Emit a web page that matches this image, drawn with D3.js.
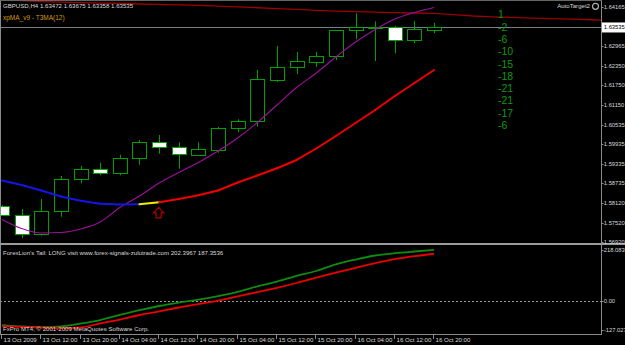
<!DOCTYPE html>
<html><head><meta charset="utf-8">
<script src="https://cdn.jsdelivr.net/npm/d3@7"></script>
<style>html,body{margin:0;padding:0;background:#000;overflow:hidden}</style>
</head><body><svg id="c" width="625" height="345"></svg>
<script>
// ---------------- data ----------------
const symbol = "GBPUSD,H4";
const timeLabels = ["13 Oct 2009","13 Oct 12:00","13 Oct 20:00","14 Oct 04:00","14 Oct 12:00","14 Oct 20:00",
  "15 Oct 04:00","15 Oct 12:00","15 Oct 20:00","16 Oct 04:00","16 Oct 12:00","16 Oct 20:00"];
const timeLabelBars = [0,2,4,6,8,10,12,14,16,18,20,22];

const open  = [1.58039,1.57753,1.57167,1.57885,1.58853,1.59171,1.59038,1.59519,1.59994,1.59859,1.59593,1.59766,1.60426,1.60642,1.61925,1.62307,1.62471,1.62646,1.63448,1.63525,1.63541,1.63140,1.63472];
const high  = [1.58060,1.57938,1.58246,1.58955,1.59264,1.59365,1.59612,1.60065,1.60219,1.59994,1.59994,1.60466,1.60704,1.62224,1.62964,1.62779,1.62779,1.63457,1.63972,1.63726,1.63580,1.63735,1.63675];
const low   = [1.57730,1.57043,1.57114,1.57700,1.58730,1.58977,1.58977,1.59304,1.59643,1.59180,1.59572,1.59674,1.60303,1.60476,1.61854,1.62100,1.62326,1.62532,1.63170,1.62501,1.62739,1.63050,1.63358];
const close = [1.57753,1.57167,1.57867,1.58853,1.59171,1.59038,1.59519,1.60004,1.59859,1.59634,1.59779,1.60426,1.60642,1.61946,1.62316,1.62492,1.62655,1.63457,1.63541,1.63540,1.63140,1.63479,1.63535];

// xpMA (thick, colour by trend)
const xpma = [1.58816,1.58678,1.58508,1.58323,1.58190,1.58101,1.58076,1.58083,1.58144,1.58246,1.58360,1.58508,1.58755,1.58971,1.59193,1.59449,1.59803,1.60189,1.60590,1.60990,1.61422,1.61823,1.62224];
const xpmaTrend = ["down","down","down","down","down","down","down","down","flat","up","up","up","up","up","up","up","up","up","up","up","up","up","up"];
const arrowBar = 8;
// T3MA (purple)
const t3ma = [1.57614,1.57336,1.57198,1.57213,1.57321,1.57537,1.57984,1.58338,1.58739,1.59063,1.59371,1.59726,1.60127,1.60605,1.61145,1.61684,1.62131,1.62625,1.63087,1.63473,1.63796,1.63997,1.64151];
// long shifted MA (dark red), bars 0..31
const longMA = [1.64394,1.64361,1.64333,1.64318,1.64303,1.64288,1.64274,1.64259,1.64244,1.64230,1.64215,1.64196,1.64170,1.64143,1.64117,1.64091,1.64065,1.64039,1.64022,1.64006,1.63993,1.63981,1.63969,1.63934,1.63889,1.63861,1.63844,1.63826,1.63808,1.63791,1.63773,1.63756];

const priceTicks = [1.64165,1.62965,1.62350,1.61750,1.61150,1.60535,1.59935,1.59335,1.58735,1.58120,1.57520,1.56920];
const currentPrice = 1.63535;
const autoTargets = [1,-2,-6,-10,-15,-18,-21,-21,-17,-6];

// sub-window: ForexLion's Tail
const tailGreen = [-95.7,-101.3,-104.0,-100.5,-89.4,-75.5,-55.6,-36.6,-19.9,-6.1,5.8,19.7,36.4,58.2,77.2,99.9,118.9,145.5,164.5,180.4,189.5,196.3,202.3967];
const tailRed   = [-99.7,-102.9,-105.6,-107.6,-105.2,-88.6,-73.5,-55.6,-41.4,-25.9,-12.8,1.5,18.5,34.8,52.3,71.3,92.3,112.6,131.6,149.9,165.7,177.6,187.3536];
const subMax = 218.0836, subMin = -127.027;
const subTicks = [218.0836, 0, -127.027];
const subTickLabels = ["218.0836","0.00","-127.027"];

// ---------------- drawing ----------------
const svg = d3.select("#c");
const FONT = "'Liberation Sans', Arial, sans-serif";
const TXT = "#d8d8d8";
const GRID = "#8a8a8a";
const axisX = 601.5;
const FS = 6.1;
const AFS = 5.8;

svg.append("rect").attr("width",625).attr("height",345).attr("fill","#000");

const x = d3.scaleLinear().domain([0,22]).range([2,434.1]);
const y = d3.scaleLinear().domain([1.5692,1.64382]).range([242,0]);
const ys = d3.scaleLinear().domain([subMin,subMax]).range([333,246]);

svg.append("clipPath").attr("id","mainClip").append("rect").attr("x",1).attr("y",0).attr("width",axisX-1).attr("height",243);
svg.append("clipPath").attr("id","subClip").append("rect").attr("x",1).attr("y",246).attr("width",axisX-1).attr("height",88);

const main = svg.append("g").attr("clip-path","url(#mainClip)");
const sub = svg.append("g").attr("clip-path","url(#subClip)");

// current price line
main.append("line").attr("x1",0).attr("x2",axisX).attr("y1",Math.round(y(currentPrice))+0.5).attr("y2",Math.round(y(currentPrice))+0.5)
  .attr("stroke","#6f8282").attr("stroke-width",1);

// long MA
main.append("path").datum(longMA).attr("fill","none").attr("stroke","#9a0000").attr("stroke-width",1.3)
  .attr("d", d3.line().x((d,i)=>x(i)).y(d=>y(d)));

// candles
const GREEN = "#00a000";
const cg = main.append("g");
open.forEach((o,i)=>{
  const cx = Math.round(x(i))+0.5;
  const c = close[i];
  cg.append("line").attr("x1",cx).attr("x2",cx).attr("y1",y(high[i])).attr("y2",y(low[i])).attr("stroke",GREEN).attr("stroke-width",1);
  const top = Math.round(y(Math.max(o,c)))+0.5;
  const bot = Math.round(y(Math.min(o,c)))+0.5;
  const bull = c >= o;
  const h = Math.max(0, bot-top);
  if (h < 1) {
    cg.append("line").attr("x1",cx-7).attr("x2",cx+7).attr("y1",top).attr("y2",top).attr("stroke","#2fd02f").attr("stroke-width",1.2);
  } else {
    cg.append("rect").attr("x",cx-7).attr("y",top).attr("width",14).attr("height",h)
      .attr("fill", bull ? "#000" : "#ffffff").attr("stroke",GREEN).attr("stroke-width",1);
  }
});

// T3MA purple
main.append("path").datum(t3ma).attr("fill","none").attr("stroke","#9c109c").attr("stroke-width",1.1)
  .attr("d", d3.line().x((d,i)=>x(i)).y(d=>y(d)).curve(d3.curveMonotoneX));

// xpMA coloured segments
const trendColor = {down:"#1414e6", flat:"#f0f000", up:"#f00000"};
for (let i=1;i<xpma.length;i++){
  main.append("line").attr("x1",x(i-1)).attr("y1",y(xpma[i-1])).attr("x2",x(i)).attr("y2",y(xpma[i]))
    .attr("stroke",trendColor[xpmaTrend[i]]).attr("stroke-width",2).attr("stroke-linecap","round");
}
// arrow under xpMA at turning bar
{
  const ax = x(arrowBar) - 0.5, ay = y(xpma[arrowBar]) + 5;
  const p = `M${ax},${ay} L${ax+5},${ay+5.5} L${ax+2.5},${ay+5.5} L${ax+2.5},${ay+10.5} L${ax-2.5},${ay+10.5} L${ax-2.5},${ay+5.5} L${ax-5},${ay+5.5} Z`;
  main.append("path").attr("d",p).attr("fill","none").attr("stroke","#b00000").attr("stroke-width",1.2);
}

// auto target numbers
svg.append("g").selectAll("text").data(autoTargets).join("text")
  .attr("x",498).attr("y",(d,i)=>14.7+i*12.26).attr("dy","0.36em")
  .attr("font-family",FONT).attr("font-size",10.5).attr("fill","#0d9a0d").text(d=>d);

// header texts
svg.append("text").attr("x",3).attr("y",5.5).attr("dy","0.35em").attr("font-family",FONT).attr("font-size",FS).attr("fill",TXT)
  .text(`${symbol}  ${open[22].toFixed(5)} ${high[22].toFixed(5)} ${low[22].toFixed(5)} ${close[22].toFixed(5)}`);
svg.append("text").attr("x",3).attr("y",17.3).attr("dy","0.35em").attr("font-family",FONT).attr("font-size",6.5).attr("fill","#d49a12")
  .text("xpMA_v9 - T3MA(12)");
svg.append("text").attr("x",590).attr("y",6.3).attr("dy","0.35em").attr("text-anchor","end").attr("font-family",FONT).attr("font-size",FS).attr("fill",TXT)
  .text("AutoTarget2");
svg.append("circle").attr("cx",595.5).attr("cy",6.3).attr("r",3).attr("fill","none").attr("stroke","#b0b0b0").attr("stroke-width",1.2);

// sub-window
sub.append("line").attr("x1",0).attr("x2",axisX).attr("y1",Math.round(ys(0))+0.5).attr("y2",Math.round(ys(0))+0.5)
  .attr("stroke","#9a9a9a").attr("stroke-width",1).attr("stroke-dasharray","2,2");
sub.append("path").datum(tailGreen).attr("fill","none").attr("stroke","#118a11").attr("stroke-width",1.8)
  .attr("d", d3.line().x((d,i)=>x(i)).y(d=>ys(d)).curve(d3.curveMonotoneX));
sub.append("path").datum(tailRed).attr("fill","none").attr("stroke","#ee0000").attr("stroke-width",1.8)
  .attr("d", d3.line().x((d,i)=>x(i)).y(d=>ys(d)).curve(d3.curveMonotoneX));
svg.append("text").attr("x",3).attr("y",252.5).attr("dy","0.35em").attr("font-family",FONT).attr("font-size",FS).attr("fill",TXT)
  .text(`ForexLion's Tail: LONG visit www.forex-signals-zulutrade.com  ${tailGreen[22].toFixed(4)} ${tailRed[22].toFixed(4)}`);
svg.append("text").attr("x",3).attr("y",329).attr("dy","0.35em").attr("font-family",FONT).attr("font-size",FS).attr("fill",TXT)
  .text("FxPro MT4, © 2001-2009 MetaQuotes Software Corp.");

// frames
const fr = svg.append("g").attr("stroke",GRID).attr("fill","none");
fr.append("line").attr("x1",0.5).attr("x2",0.5).attr("y1",0).attr("y2",335);
fr.append("line").attr("x1",axisX).attr("x2",axisX).attr("y1",0).attr("y2",335);
fr.append("line").attr("x1",0).attr("x2",axisX).attr("y1",0.5).attr("y2",0.5).attr("stroke","#666");
fr.append("line").attr("x1",0).attr("x2",625).attr("y1",244).attr("y2",244).attr("stroke","#9a9a9a").attr("stroke-width",2.2);
fr.append("line").attr("x1",0).attr("x2",axisX).attr("y1",334.5).attr("y2",334.5);

// price axis
const pa = svg.append("g");
priceTicks.forEach(p=>{
  const yy = Math.min(241.5, y(p));
  pa.append("line").attr("x1",axisX).attr("x2",axisX+2).attr("y1",Math.round(yy)+0.5).attr("y2",Math.round(yy)+0.5).attr("stroke",GRID);
  pa.append("text").attr("x",603.8).attr("y",yy).attr("dy","0.35em").attr("font-family",FONT).attr("font-size",AFS).attr("fill",TXT).text(p.toFixed(5));
});
{
  const yy = y(currentPrice);
  pa.append("rect").attr("x",602).attr("y",yy-5).attr("width",24).attr("height",10).attr("fill","#fff");
  pa.append("text").attr("x",603.8).attr("y",yy).attr("dy","0.35em").attr("font-family",FONT).attr("font-size",AFS).attr("fill","#000").text(currentPrice.toFixed(5));
}
// sub axis
subTicks.forEach((v,i)=>{
  const yy = Math.max(250, Math.min(330, ys(v)));
  pa.append("line").attr("x1",axisX).attr("x2",axisX+2).attr("y1",Math.round(yy)+0.5).attr("y2",Math.round(yy)+0.5).attr("stroke",GRID);
  pa.append("text").attr("x",603.8).attr("y",yy).attr("dy","0.35em").attr("font-family",FONT).attr("font-size",AFS).attr("fill",TXT).text(subTickLabels[i]);
});

// time axis
const ta = svg.append("g");
timeLabelBars.forEach((b,i)=>{
  const xx = Math.round(x(b)) - 0.5;
  ta.append("line").attr("x1",xx).attr("x2",xx).attr("y1",335).attr("y2",339).attr("stroke",GRID);
  ta.append("text").attr("x",xx+2).attr("y",340).attr("dy","0.35em").attr("font-family",FONT).attr("font-size",FS).attr("fill",TXT).text(timeLabels[i]);
});
</script></body></html>
